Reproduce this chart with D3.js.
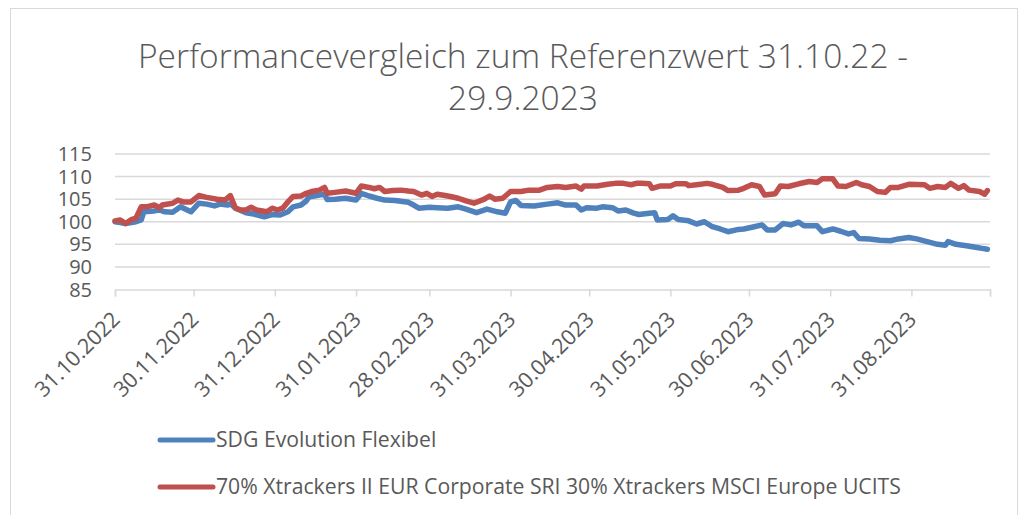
<!DOCTYPE html>
<html>
<head>
<meta charset="utf-8">
<script src="https://cdn.jsdelivr.net/npm/d3@7"></script>
<style>
  body { margin: 0; background: #fff; }
  text { font-family: 'Open Sans', sans-serif; fill: #595959; }
</style>
</head>
<body>
<div id="container"></div>
<script>
/* CONSTANTS AND GLOBALS */
const width = 1027,
  height = 515,
  margin = { top: 154, bottom: 226, left: 115, right: 37 }

/* DATA */
const titleLines = ['Performancevergleich zum Referenzwert 31.10.22 -', '29.9.2023']
const seriesNames = ['SDG Evolution Flexibel', '70% Xtrackers II EUR Corporate SRI 30% Xtrackers MSCI Europe UCITS']
const yTicks = [85, 90, 95, 100, 105, 110, 115]
const xTickDates = ['2022-10-31', '2022-11-30', '2022-12-31', '2023-01-31', '2023-02-28', '2023-03-31',
  '2023-04-30', '2023-05-31', '2023-06-30', '2023-07-31', '2023-08-31', '2023-09-30']
const xTickLabels = ['31.10.2022', '30.11.2022', '31.12.2022', '31.01.2023', '28.02.2023', '31.03.2023',
  '30.04.2023', '31.05.2023', '30.06.2023', '31.07.2023', '31.08.2023', '']

const sdgDates = ['2022-10-31', '2022-11-02', '2022-11-04', '2022-11-08', '2022-11-10', '2022-11-11', '2022-11-15',
  '2022-11-17', '2022-11-19', '2022-11-22', '2022-11-25', '2022-11-29', '2022-12-02', '2022-12-05', '2022-12-08',
  '2022-12-10', '2022-12-13', '2022-12-14', '2022-12-16', '2022-12-20', '2022-12-23', '2022-12-27', '2022-12-30',
  '2023-01-02', '2023-01-05', '2023-01-07', '2023-01-10', '2023-01-12', '2023-01-13', '2023-01-14', '2023-01-17',
  '2023-01-19', '2023-01-20', '2023-01-23', '2023-01-27', '2023-01-31', '2023-02-02', '2023-02-05', '2023-02-08',
  '2023-02-11', '2023-02-15', '2023-02-20', '2023-02-22', '2023-02-24', '2023-02-28', '2023-03-03', '2023-03-07',
  '2023-03-11', '2023-03-14', '2023-03-18', '2023-03-22', '2023-03-26', '2023-03-29', '2023-03-31', '2023-04-02',
  '2023-04-04', '2023-04-09', '2023-04-14', '2023-04-18', '2023-04-21', '2023-04-25', '2023-04-27', '2023-04-29',
  '2023-05-03', '2023-05-05', '2023-05-09', '2023-05-11', '2023-05-14', '2023-05-17', '2023-05-19', '2023-05-23',
  '2023-05-25', '2023-05-26', '2023-05-30', '2023-06-01', '2023-06-03', '2023-06-07', '2023-06-10', '2023-06-13',
  '2023-06-16', '2023-06-19', '2023-06-22', '2023-06-26', '2023-06-28', '2023-07-02', '2023-07-05', '2023-07-07',
  '2023-07-10', '2023-07-13', '2023-07-16', '2023-07-19', '2023-07-21', '2023-07-26', '2023-07-28', '2023-08-01',
  '2023-08-04', '2023-08-07', '2023-08-09', '2023-08-11', '2023-08-15', '2023-08-19', '2023-08-23', '2023-08-26',
  '2023-08-30', '2023-09-02', '2023-09-06', '2023-09-10', '2023-09-13', '2023-09-14', '2023-09-17', '2023-09-21',
  '2023-09-25', '2023-09-27', '2023-09-29']
const sdgValues = [100.0, 99.8, 99.6, 100.0, 100.4, 102.2, 102.4,
  102.6, 102.2, 102.1, 103.3, 102.2, 104.1, 103.9, 103.5,
  103.9, 103.7, 104.0, 103.0, 102.0, 101.7, 101.1, 101.6,
  101.5, 102.2, 103.3, 103.7, 104.6, 105.5, 105.6, 105.9,
  106.1, 104.9, 105.0, 105.2, 104.8, 106.3, 105.7, 105.2,
  104.8, 104.7, 104.3, 103.7, 103.0, 103.2, 103.1, 103.0,
  103.3, 102.8, 102.0, 102.8, 102.2, 101.9, 104.4, 104.7,
  103.6, 103.5, 103.9, 104.2, 103.7, 103.7, 102.6, 103.1,
  103.0, 103.3, 103.1, 102.4, 102.6, 101.9, 101.6, 101.9,
  102.0, 100.4, 100.5, 101.3, 100.5, 100.2, 99.5, 100.0,
  98.9, 98.4, 97.8, 98.3, 98.4, 98.9, 99.3, 98.2,
  98.2, 99.6, 99.3, 99.9, 99.1, 99.1, 97.8, 98.4,
  97.9, 97.3, 97.6, 96.3, 96.2, 95.9, 95.8, 96.2,
  96.5, 96.2, 95.6, 95.0, 94.8, 95.6, 95.0, 94.7,
  94.3, 94.1, 93.9]

const refDates = ['2022-10-31', '2022-11-02', '2022-11-04', '2022-11-06', '2022-11-08', '2022-11-10', '2022-11-12',
  '2022-11-15', '2022-11-17', '2022-11-18', '2022-11-22', '2022-11-24', '2022-11-26', '2022-11-29', '2022-12-02',
  '2022-12-05', '2022-12-09', '2022-12-12', '2022-12-14', '2022-12-16', '2022-12-18', '2022-12-20', '2022-12-22',
  '2022-12-24', '2022-12-28', '2022-12-30', '2023-01-01', '2023-01-03', '2023-01-05', '2023-01-07', '2023-01-10',
  '2023-01-12', '2023-01-14', '2023-01-17', '2023-01-19', '2023-01-20', '2023-01-23', '2023-01-27', '2023-01-31',
  '2023-02-02', '2023-02-05', '2023-02-07', '2023-02-09', '2023-02-11', '2023-02-14', '2023-02-17', '2023-02-20',
  '2023-02-22', '2023-02-25', '2023-02-27', '2023-03-01', '2023-03-03', '2023-03-06', '2023-03-08', '2023-03-11',
  '2023-03-14', '2023-03-17', '2023-03-21', '2023-03-23', '2023-03-25', '2023-03-28', '2023-03-31', '2023-04-04',
  '2023-04-07', '2023-04-11', '2023-04-14', '2023-04-18', '2023-04-21', '2023-04-25', '2023-04-27', '2023-04-28',
  '2023-05-03', '2023-05-07', '2023-05-10', '2023-05-13', '2023-05-16', '2023-05-18', '2023-05-20', '2023-05-23',
  '2023-05-24', '2023-05-27', '2023-05-31', '2023-06-02', '2023-06-06', '2023-06-07', '2023-06-10', '2023-06-14',
  '2023-06-16', '2023-06-20', '2023-06-22', '2023-06-26', '2023-06-28', '2023-07-01', '2023-07-04', '2023-07-06',
  '2023-07-10', '2023-07-12', '2023-07-15', '2023-07-19', '2023-07-23', '2023-07-26', '2023-07-28', '2023-08-01',
  '2023-08-03', '2023-08-06', '2023-08-10', '2023-08-12', '2023-08-15', '2023-08-18', '2023-08-21', '2023-08-23',
  '2023-08-26', '2023-08-30', '2023-09-05', '2023-09-07', '2023-09-10', '2023-09-13', '2023-09-15', '2023-09-18',
  '2023-09-20', '2023-09-22', '2023-09-26', '2023-09-28', '2023-09-29']
const refValues = [100.2, 100.4, 99.6, 100.4, 100.8, 103.3, 103.3,
  103.7, 103.1, 103.7, 104.1, 104.8, 104.4, 104.4, 105.8,
  105.4, 105.0, 104.8, 105.8, 103.0, 102.6, 102.6, 103.2,
  102.6, 102.2, 103.0, 102.6, 103.0, 104.4, 105.6, 105.7,
  106.3, 106.7, 107.0, 107.6, 106.3, 106.5, 106.8, 106.3,
  107.9, 107.6, 107.3, 107.6, 106.7, 106.9, 107.0, 106.8,
  106.7, 105.9, 106.3, 105.6, 106.1, 105.8, 105.6, 105.2,
  104.6, 104.1, 105.0, 105.7, 105.0, 105.2, 106.7, 106.7,
  107.0, 107.0, 107.6, 107.8, 107.6, 107.9, 107.2, 107.9,
  107.9, 108.3, 108.5, 108.5, 108.2, 108.5, 108.5, 108.4,
  107.4, 107.9, 107.9, 108.4, 108.4, 108.0, 108.2, 108.5,
  108.3, 107.6, 106.9, 107.0, 107.4, 108.2, 107.8, 105.9,
  106.2, 107.9, 107.8, 108.4, 108.9, 108.7, 109.5, 109.5,
  107.9, 107.8, 108.7, 108.2, 107.8, 106.7, 106.5, 107.6,
  107.6, 108.3, 108.2, 107.4, 107.8, 107.6, 108.5, 107.4,
  108.0, 107.0, 106.7, 106.1, 106.9]

const colors = ['#4f81bd', '#c0504d']

/* PREP */
const parse = d3.utcParse('%Y-%m-%d')
const series = [
  { name: seriesNames[0], color: colors[0], values: sdgDates.map((d, i) => ({ date: parse(d), value: sdgValues[i] })) },
  { name: seriesNames[1], color: colors[1], values: refDates.map((d, i) => ({ date: parse(d), value: refValues[i] })) }
]

/* SCALES */
const xScale = d3.scaleUtc()
  .domain([parse(xTickDates[0]), parse(xTickDates[xTickDates.length - 1])])
  .range([margin.left, width - margin.right])

const yScale = d3.scaleLinear()
  .domain([85, 115])
  .range([height - margin.bottom + 0.5, margin.top])

/* SVG */
const svg = d3.select('#container')
  .append('svg')
  .attr('width', width)
  .attr('height', height)

// chart area border
svg.append('rect')
  .attr('x', 10.5)
  .attr('y', 8.5)
  .attr('width', 1007)
  .attr('height', 530)
  .attr('fill', 'white')
  .attr('stroke', '#d9d9d9')

// + TITLE
svg.append('g')
  .selectAll('text')
  .data(titleLines)
  .join('text')
  .attr('x', 523)
  .attr('y', (d, i) => 68 + i * 42)
  .attr('text-anchor', 'middle')
  .style('font-size', '33.5px')
  .style('font-weight', 300)
  .text(d => d)

// + GRIDLINES
svg.append('g')
  .selectAll('line')
  .data(yTicks.slice(1))
  .join('line')
  .attr('x1', margin.left)
  .attr('x2', width - margin.right)
  .attr('y1', d => yScale(d))
  .attr('y2', d => yScale(d))
  .attr('stroke', '#d9d9d9')
  .attr('stroke-width', 1.5)

// + Y AXIS LABELS
svg.append('g')
  .selectAll('text')
  .data(yTicks)
  .join('text')
  .attr('x', 92)
  .attr('y', d => yScale(d))
  .attr('dy', '0.35em')
  .attr('text-anchor', 'end')
  .style('font-size', '20px')
  .text(d => d)

// + X AXIS
const xAxis = d3.axisBottom(xScale)
  .tickValues(xTickDates.map(parse))
  .tickSize(7)
  .tickFormat('')

const xAxisG = svg.append('g')
  .attr('transform', `translate(0, ${yScale(85)})`)
  .call(xAxis)

xAxisG.select('.domain').attr('stroke', '#d9d9d9').attr('stroke-width', 1.5)
xAxisG.selectAll('.tick line').attr('stroke', '#d9d9d9').attr('stroke-width', 1.5)

svg.append('g')
  .selectAll('text')
  .data(xTickDates)
  .join('text')
  .attr('transform', d => `translate(${xScale(parse(d)) + 1}, ${yScale(85) + 26}) rotate(-45)`)
  .attr('text-anchor', 'end')
  .attr('dy', '0.35em')
  .style('font-size', '21.5px')
  .text((d, i) => xTickLabels[i])

// + LINES
const line = d3.line()
  .x(d => xScale(d.date))
  .y(d => yScale(d.value))

svg.append('g')
  .selectAll('path')
  .data(series)
  .join('path')
  .attr('d', d => line(d.values))
  .attr('fill', 'none')
  .attr('stroke', d => d.color)
  .attr('stroke-width', 5.5)
  .attr('stroke-linejoin', 'round')
  .attr('stroke-linecap', 'round')

// + LEGEND
const legend = svg.append('g')
  .attr('transform', 'translate(160, 440)')

legend.selectAll('line')
  .data(series)
  .join('line')
  .attr('x1', 0)
  .attr('x2', 53)
  .attr('y1', (d, i) => i * 47)
  .attr('y2', (d, i) => i * 47)
  .attr('stroke', d => d.color)
  .attr('stroke-width', 5)
  .attr('stroke-linecap', 'round')

legend.selectAll('text')
  .data(series)
  .join('text')
  .attr('x', 56)
  .attr('y', (d, i) => i * 47)
  .attr('dy', '0.35em')
  .style('font-size', '21.2px')
  .text(d => d.name)
</script>
</body>
</html>
